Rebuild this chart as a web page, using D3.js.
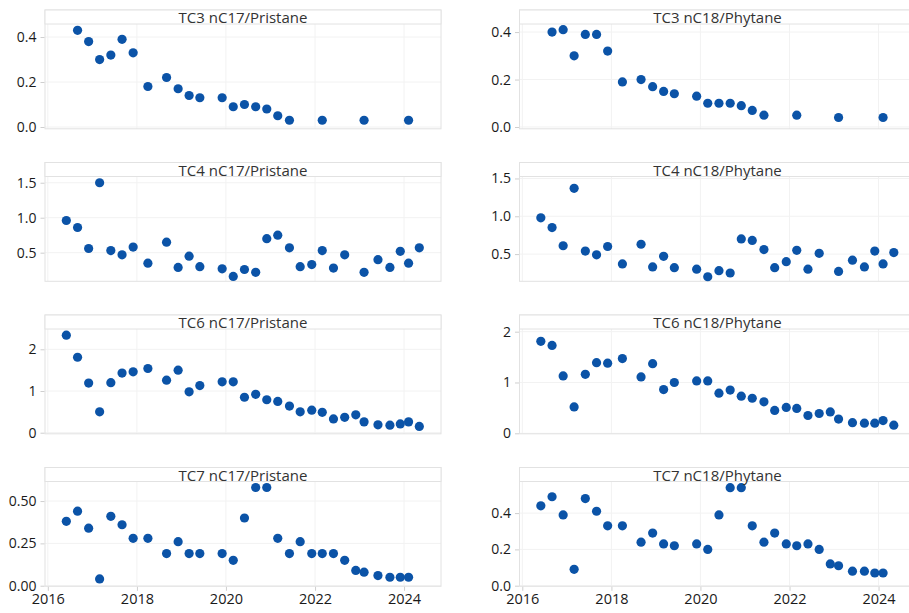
<!DOCTYPE html>
<html>
<head>
<meta charset="utf-8">
<script src="https://cdn.jsdelivr.net/npm/d3@7"></script>
<style>
  html, body { margin: 0; padding: 0; background: #fff; }
  svg { display: block; font-family: "Open Sans", "Noto Sans", sans-serif; }
</style>
</head>
<body>
<svg id="chart" width="909" height="613"></svg>
<script>
// ---- data ----
const dates = ["2016-06-01","2016-09-01","2016-12-01","2017-03-01","2017-06-01","2017-09-01","2017-12-01",
  "2018-04-01","2018-09-01","2018-12-05","2019-03-05","2019-06-01","2019-12-01","2020-03-01","2020-06-01",
  "2020-09-01","2020-12-01","2021-03-01","2021-06-05","2021-09-01","2021-12-05","2022-03-01","2022-06-01",
  "2022-09-01","2022-12-01","2023-02-07","2023-06-01","2023-09-07","2023-12-01","2024-02-07","2024-05-05"];

const tc3_nC17 = [null,0.43,0.38,0.30,0.32,0.39,0.33,0.18,0.22,0.17,0.14,0.13,0.13,0.09,0.10,0.09,0.08,0.05,0.03,null,null,0.03,null,null,null,0.03,null,null,null,0.03,null];
const tc3_nC18 = [null,0.40,0.41,0.30,0.39,0.39,0.32,0.19,0.20,0.17,0.15,0.14,0.13,0.10,0.10,0.10,0.09,0.07,0.05,null,null,0.05,null,null,null,0.04,null,null,null,0.04,null];
const tc4_nC17 = [0.96,0.86,0.56,1.50,0.53,0.47,0.58,0.35,0.65,0.29,0.45,0.30,0.27,0.16,0.26,0.22,0.70,0.75,0.57,0.30,0.33,0.53,0.28,0.47,null,0.22,0.40,0.29,0.52,0.35,0.57];
const tc4_nC18 = [0.98,0.85,0.61,1.37,0.54,0.49,0.60,0.37,0.63,0.33,0.47,0.32,0.30,0.20,0.28,0.25,0.70,0.68,0.56,0.32,0.40,0.55,0.30,0.51,null,0.27,0.42,0.33,0.54,0.37,0.52];
const tc6_nC17 = [2.34,1.81,1.19,0.50,1.20,1.43,1.46,1.54,1.26,1.50,0.98,1.13,1.22,1.22,0.85,0.92,0.79,0.75,0.64,0.50,0.54,0.49,0.33,0.37,0.43,0.26,0.19,0.18,0.21,0.26,0.15];
const tc6_nC18 = [1.81,1.73,1.13,0.52,1.16,1.39,1.38,1.47,1.11,1.37,0.86,1.00,1.03,1.03,0.79,0.85,0.73,0.69,0.62,0.45,0.51,0.49,0.35,0.39,0.42,0.28,0.21,0.20,0.20,0.25,0.16];
const tc7_nC17 = [0.38,0.44,0.34,0.04,0.41,0.36,0.28,0.28,0.19,0.26,0.19,0.19,0.19,0.15,0.40,0.58,0.58,0.28,0.19,0.26,0.19,0.19,0.19,0.15,0.09,0.08,0.06,0.05,0.05,0.05,null];
const tc7_nC18 = [0.44,0.49,0.39,0.09,0.48,0.41,0.33,0.33,0.24,0.29,0.23,0.22,0.23,0.20,0.39,0.54,0.54,0.33,0.24,0.29,0.23,0.22,0.23,0.20,0.12,0.11,0.08,0.08,0.07,0.07,null];

const titles = ["TC3 nC17/Pristane","TC3 nC18/Phytane","TC4 nC17/Pristane","TC4 nC18/Phytane",
                "TC6 nC17/Pristane","TC6 nC18/Phytane","TC7 nC17/Pristane","TC7 nC18/Phytane"];
const seriesList = [tc3_nC17, tc3_nC18, tc4_nC17, tc4_nC18, tc6_nC17, tc6_nC18, tc7_nC17, tc7_nC18];
const yTicks = [[0,0.2,0.4],[0,0.2,0.4],[0.5,1.0,1.5],[0.5,1.0,1.5],[0,1,2],[0,1,2],[0,0.25,0.5],[0,0.2,0.4]];
const yFormats = [".1f",".1f",".1f",".1f","d","d",".2f",".1f"];
const yRanges = [[-0.008,0.458],[-0.0076,0.434],[0.091,1.589],[0.140,1.526],[-0.026,2.487],[-0.0098,2.053],[-0.0035,0.6155],[-0.0033,0.574]];
const xTickYears = [2016, 2018, 2020, 2022, 2024];

// ---- layout ----
const svg = d3.select("#chart");
const parse = d3.timeParse("%Y-%m-%d");
const dateObjs = dates.map(parse);
const colX = [45, 519.5];
const panelW = 396;
const rowTop = i => 10 + i * 152.5;
const panelH = 118.8;
const stripH = 14;
const dotColor = "#0b53a7";
const borderColor = "#e2e2e2";
const gridColor = "#f2f2f2";

const x = d3.scaleTime()
  .domain([new Date(2015, 11, 9), new Date(2024, 9, 30)])
  .range([0, panelW]);
const xTicks = xTickYears.map(y => new Date(y, 0, 1));

seriesList.forEach((vals, k) => {
  const row = Math.floor(k / 2), col = k % 2;
  const g = svg.append("g").attr("transform", `translate(${colX[col]},${rowTop(row)})`);
  const y = d3.scaleLinear().domain(yRanges[k]).range([panelH, stripH]);

  // grid
  g.append("g").selectAll("line.h").data(yTicks[k]).join("line")
    .attr("x1", 0).attr("x2", panelW)
    .attr("y1", d => y(d)).attr("y2", d => y(d))
    .attr("stroke", gridColor).attr("stroke-width", 1);
  g.append("g").selectAll("line.v").data(xTicks).join("line")
    .attr("x1", d => x(d)).attr("x2", d => x(d))
    .attr("y1", stripH).attr("y2", panelH)
    .attr("stroke", gridColor).attr("stroke-width", 1);

  // panel border
  g.append("rect").attr("x", 0).attr("y", 0).attr("width", panelW).attr("height", panelH)
    .attr("fill", "none").attr("stroke", borderColor).attr("stroke-width", 1);

  // y axis
  const yAxis = d3.axisLeft(y).tickValues(yTicks[k]).tickFormat(d3.format(yFormats[k]))
    .tickSize(4).tickPadding(4);
  const ya = g.append("g").attr("transform", "translate(-0.5,0)").call(yAxis);
  ya.select(".domain").remove();
  ya.selectAll(".tick line").attr("stroke", "#cfcfcf");
  ya.selectAll(".tick text").attr("fill", "#1a1a1a").attr("font-size", 14)
    .attr("font-family", '"Open Sans", sans-serif');

  // x axis (bottom row only labels)
  const xAxis = d3.axisBottom(x).tickValues(xTicks).tickFormat(d3.timeFormat("%Y"))
    .tickSize(4).tickPadding(3);
  const xa = g.append("g").attr("transform", `translate(0,${panelH + 0.5})`).call(xAxis);
  xa.select(".domain").remove();
  xa.selectAll(".tick line").attr("stroke", "#cfcfcf");
  if (row === 3) {
    xa.selectAll(".tick text").attr("fill", "#1a1a1a").attr("font-size", 14.5)
      .attr("font-family", '"Open Sans", sans-serif');
  } else {
    xa.selectAll(".tick text").remove();
    xa.selectAll(".tick line").remove();
  }

  // points
  const pts = vals.map((v, i) => ({ d: dateObjs[i], v })).filter(p => p.v !== null);
  g.append("g").selectAll("circle").data(pts).join("circle")
    .attr("cx", p => x(p.d)).attr("cy", p => y(p.v)).attr("r", 4.6)
    .attr("fill", dotColor);

  // strip
  g.append("rect").attr("x", 0).attr("y", 0).attr("width", panelW).attr("height", stripH)
    .attr("fill", "#fff").attr("stroke", borderColor).attr("stroke-width", 1);
  g.append("text").attr("x", panelW / 2).attr("y", stripH - 1)
    .attr("text-anchor", "middle").attr("font-size", 15).attr("fill", "#333")
    .text(titles[k]);
});
</script>
</body>
</html>
